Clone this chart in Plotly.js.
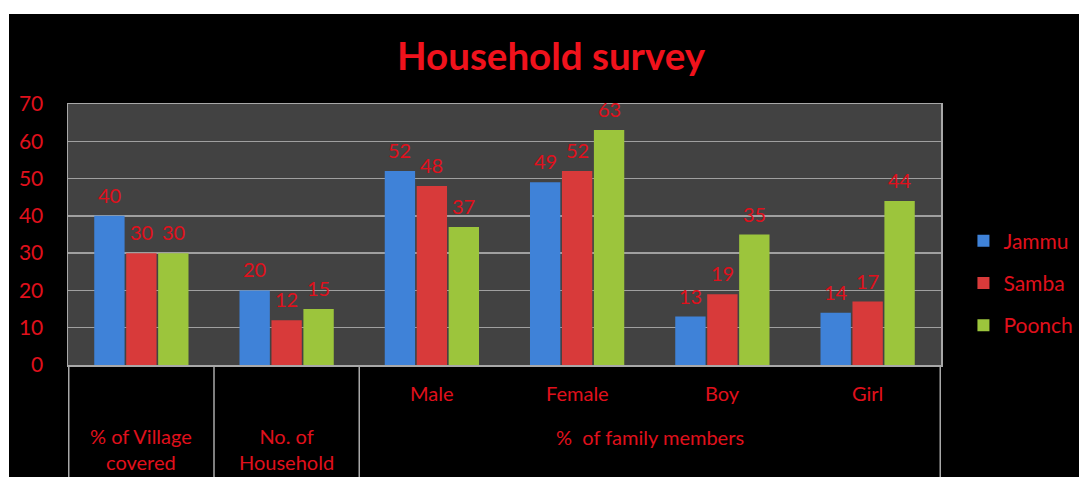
<!DOCTYPE html>
<html>
<head>
<meta charset="utf-8">
<script src="https://cdn.plot.ly/plotly-3.0.1.min.js"></script>
<style>
  html, body { margin: 0; padding: 0; background: #ffffff; width: 1079px; height: 477px; overflow: hidden; }
  #chart { position: absolute; left: 9px; top: 14px; width: 1070px; height: 463px; }
</style>
</head>
<body>
<div id="chart"></div>
<script>
// ---- data ----
const categories = ["% of Village covered", "No. of Household", "Male", "Female", "Boy", "Girl"];
const jammu  = [40, 20, 52, 49, 13, 14];
const samba  = [30, 12, 48, 52, 19, 17];
const poonch = [30, 15, 37, 63, 35, 44];
const seriesNames = ["Jammu", "Samba", "Poonch"];
const seriesColors = ["#3f82d8", "#d83a3a", "#9cc53c"];
// tick label rows
const innerLabels = ["", "", "Male", "Female", "Boy", "Girl"];
const outerGroups = [
  {label: "% of Village<br>covered", from: 0, to: 0},
  {label: "No. of<br>Household", from: 1, to: 1},
  {label: "%  of family members", from: 2, to: 5}
];

const RED = "#e0101c";
const FONT = "Lato, 'Open Sans', sans-serif";
const BARGAP = 0.34;
const BARGROUPGAP = 0.05;

const values = [jammu, samba, poonch];
const traces = seriesNames.map((name, i) => ({
  type: "bar",
  name: name,
  x: categories,
  y: values[i],
  legendgroup: name,
  marker: { color: seriesColors[i], line: { width: 0 } },
  hoverinfo: "x+y+name"
}));

const annotations = [];
// data labels above each bar, positioned via the category axis and group offsets
const nSeries = values.length;
const slot = (1 - BARGAP) / nSeries;
values.forEach((vals, k) => {
  vals.forEach((v, i) => {
    annotations.push({
      xref: "x", yref: "y", x: i + (k - (nSeries - 1) / 2) * slot, y: v, yshift: 21,
      text: String(v), showarrow: false, xanchor: "center", yanchor: "middle",
      font: { color: RED, size: 20, family: FONT }
    });
  });
});
innerLabels.forEach((lab, i) => {
  if (!lab) return;
  annotations.push({
    xref: "x", yref: "paper", x: i, y: 0, yshift: -28,
    text: lab, showarrow: false, xanchor: "center", yanchor: "middle",
    font: { color: RED, size: 20, family: FONT }
  });
});
outerGroups.forEach(g => {
  const twoLine = g.label.indexOf("<br>") >= 0;
  annotations.push({
    xref: "x", yref: "paper", x: (g.from + g.to) / 2, y: 0, yshift: twoLine ? -84 : -72,
    text: g.label, showarrow: false, xanchor: "center", yanchor: "middle",
    font: { color: RED, size: 20, family: FONT }
  });
});

const sepColor = "#a8a8a8";
const shapes = [-0.5, 0.5, 1.5, 5.5].map(xv => ({
  type: "line", xref: "x", yref: "paper", x0: xv, x1: xv, y0: 0, y1: -0.45,
  line: { color: sepColor, width: 1.5 }
}));

const layout = {
  width: 1070, height: 463,
  margin: { l: 59, r: 138, t: 90, b: 112 },
  paper_bgcolor: "#000000",
  plot_bgcolor: "#424242",
  title: {
    text: "<b>Household survey</b>",
    font: { color: "#f0121c", size: 38.5, family: FONT },
    x: 542 / 1070, xanchor: "center", xref: "container",
    y: 1 - 43 / 463, yanchor: "middle", yref: "container"
  },
  barmode: "group",
  bargap: BARGAP,
  bargroupgap: BARGROUPGAP,
  xaxis: {
    type: "category",
    showticklabels: false,
    showgrid: false,
    showline: true, mirror: true, linecolor: sepColor, linewidth: 1.5,
    ticks: ""
  },
  yaxis: {
    range: [0, 70], dtick: 10, tick0: 0,
    showgrid: true, gridcolor: "#a0a0a0", gridwidth: 1.5,
    zeroline: false,
    showline: true, mirror: true, linecolor: sepColor, linewidth: 1.5,
    ticks: "", ticklabelstandoff: 19,
    tickfont: { color: RED, size: 21, family: FONT }
  },
  legend: {
    xref: "container", yref: "container",
    x: 0.892, xanchor: "left", y: 1 - 269 / 463, yanchor: "middle",
    bgcolor: "rgba(0,0,0,0)",
    font: { color: RED, size: 21, family: FONT },
    tracegroupgap: 12,
    itemwidth: 30
  },
  showlegend: true,
  annotations: annotations,
  shapes: shapes
};

Plotly.newPlot("chart", traces, layout, { displayModeBar: false, staticPlot: true });
</script>
</body>
</html>
